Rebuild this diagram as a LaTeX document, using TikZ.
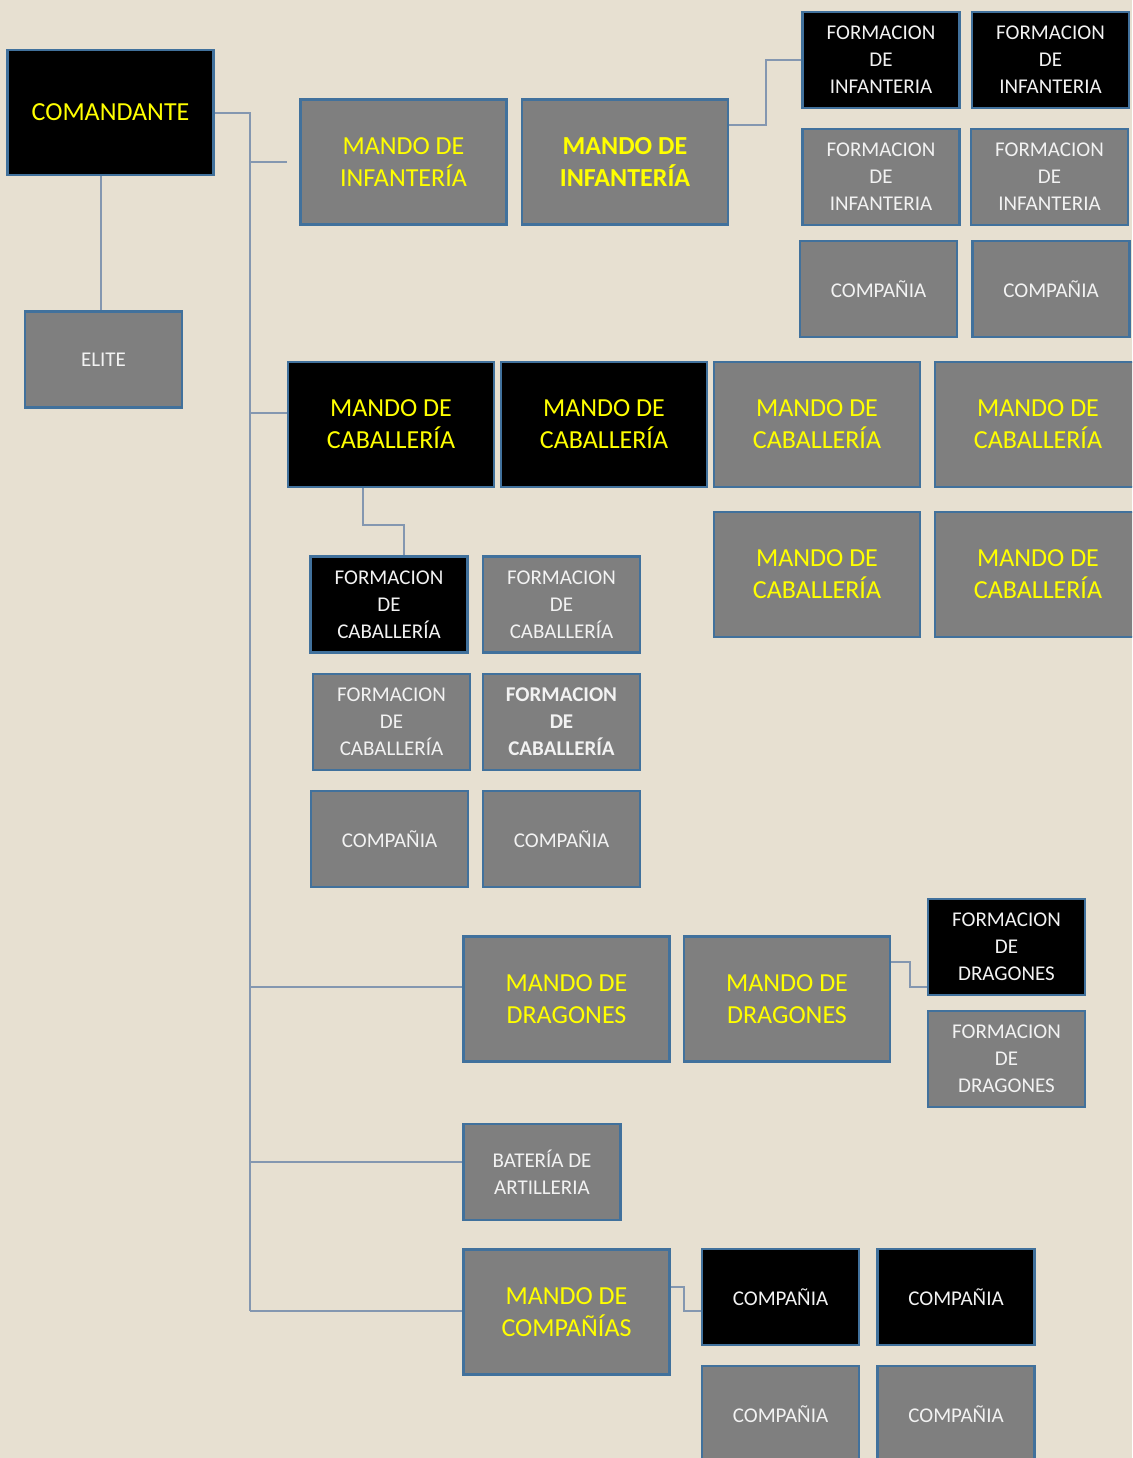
\documentclass[tikz,border=0pt]{standalone}
\usepackage{fontspec}
\setmainfont{Carlito}
\usetikzlibrary{positioning}

\definecolor{fondo}{HTML}{E7E0D1}
\definecolor{gris}{HTML}{7F7F7F}
\definecolor{borde}{HTML}{41719C}
\definecolor{linea}{HTML}{8497B0}
\definecolor{amarillo}{HTML}{FFFF00}
\definecolor{blanco}{HTML}{F2F2F2}

\tikzset{
  caja/.style={rectangle, draw=borde, line width=2.5pt, inner sep=0pt, align=center},
  grande/.style={caja, minimum width=206pt, minimum height=125pt,
    text=amarillo, font=\fontsize{26}{32}\selectfont},
  chico/.style={caja, minimum width=157pt, minimum height=96pt,
    text=blanco, font=\fontsize{21}{27}\selectfont},
  negro/.style={fill=black},
  gris/.style={fill=gris},
  enlace/.style={draw=linea, line width=2pt}
}

\begin{document}
\begin{tikzpicture}[x=1pt, y=-1pt]

\useasboundingbox (0,0) rectangle (1132,1458);
\fill[fondo] (0,0) rectangle (1132,1458);
\clip (0,0) rectangle (1132,1458);

\node[grande, negro] (cmd) at (110.5,112.5) {COMANDANTE};
\node[chico, gris] (elite) at (103.5,359.5) {ELITE};

\node[grande, gris] (inf1) at (403.5,162) {MANDO DE\\INFANTERÍA};
\node[grande, gris, font=\fontsize{26}{32}\selectfont\bfseries] (inf2) at (625,162) {MANDO DE\\INFANTERÍA};
\node[chico, negro] (fi1) at (881,60) {FORMACION\\DE\\INFANTERIA};
\node[chico, negro] (fi2) at (1050.5,60) {FORMACION\\DE\\INFANTERIA};
\node[chico, gris] (fi3) at (881,177) {FORMACION\\DE\\INFANTERIA};
\node[chico, gris] (fi4) at (1049.5,177) {FORMACION\\DE\\INFANTERIA};
\node[chico, gris] (ci1) at (878.5,289) {COMPAÑIA};
\node[chico, gris] (ci2) at (1051,289) {COMPAÑIA};

\node[grande, negro] (cab1) at (391,424.5) {MANDO DE\\CABALLERÍA};
\node[grande, negro] (cab2) at (604,424.5) {MANDO DE\\CABALLERÍA};
\node[grande, gris] (cab3) at (817,424.5) {MANDO DE\\CABALLERÍA};
\node[grande, gris] (cab4) at (1038,424.5) {MANDO DE\\CABALLERÍA};
\node[grande, gris] (cab5) at (817,574.5) {MANDO DE\\CABALLERÍA};
\node[grande, gris] (cab6) at (1038,574.5) {MANDO DE\\CABALLERÍA};
\node[chico, negro] (fc1) at (389,604.5) {FORMACION\\DE\\CABALLERÍA};
\node[chico, gris] (fc2) at (561.5,604.5) {FORMACION\\DE\\CABALLERÍA};
\node[chico, gris] (fc3) at (391.5,722) {FORMACION\\DE\\CABALLERÍA};
\node[chico, gris, font=\fontsize{21}{27}\selectfont\bfseries] (fc4) at (561.5,722) {FORMACION\\DE\\CABALLERÍA};
\node[chico, gris] (cc1) at (389.5,839) {COMPAÑIA};
\node[chico, gris] (cc2) at (561.5,839) {COMPAÑIA};

\node[grande, gris] (dr1) at (566.5,999) {MANDO DE\\DRAGONES};
\node[grande, gris] (dr2) at (787,999) {MANDO DE\\DRAGONES};
\node[chico, negro] (fd1) at (1006.5,947) {FORMACION\\DE\\DRAGONES};
\node[chico, gris] (fd2) at (1006.5,1059) {FORMACION\\DE\\DRAGONES};

\node[chico, gris] (bat) at (542,1172) {BATERÍA DE\\ARTILLERIA};

\node[grande, gris] (mc) at (566.5,1312) {MANDO DE\\COMPAÑÍAS};
\node[chico, negro] (co1) at (780.5,1297) {COMPAÑIA};
\node[chico, negro] (co2) at (956,1297) {COMPAÑIA};
\node[chico, gris] (co3) at (780.5,1414) {COMPAÑIA};
\node[chico, gris] (co4) at (956,1414) {COMPAÑIA};

\coordinate (tronco) at (250,1311);
\coordinate (rinf) at ([xshift=-12pt]inf1.west);
\coordinate (rcab) at ([yshift=12pt]cab1.west);
\coordinate (rdr) at ([yshift=12pt]dr1.west);
\coordinate (rbat) at ([yshift=10pt]bat.west);

\path[enlace] ([xshift=-10pt]cmd.south) -- ([xshift=-10pt]cmd.south |- elite.north);
\path[enlace] ([yshift=-0.5pt]cmd.east) -| (tronco);
\path[enlace] (tronco |- rinf) -- (rinf);
\path[enlace] (tronco |- rcab) -- (rcab);
\path[enlace] (tronco |- rdr) -- (rdr);
\path[enlace] (tronco |- rbat) -- (rbat);
\path[enlace] (tronco) -- (tronco -| mc.west);

\path[enlace] ([yshift=37pt]inf2.east) -- ++(37,0) |- (fi1.west);
\path[enlace] ([xshift=-28pt]cab1.south) -- ++(0,37) -| ([xshift=15pt]fc1.north);
\path[enlace] ([yshift=37pt]dr2.east) -- ++(19,0) |- ([yshift=-40pt]fd1.west);
\path[enlace] ([yshift=25pt]mc.east) -- ++(13,0) |- ([yshift=-14pt]co1.west);

\end{tikzpicture}
\end{document}
